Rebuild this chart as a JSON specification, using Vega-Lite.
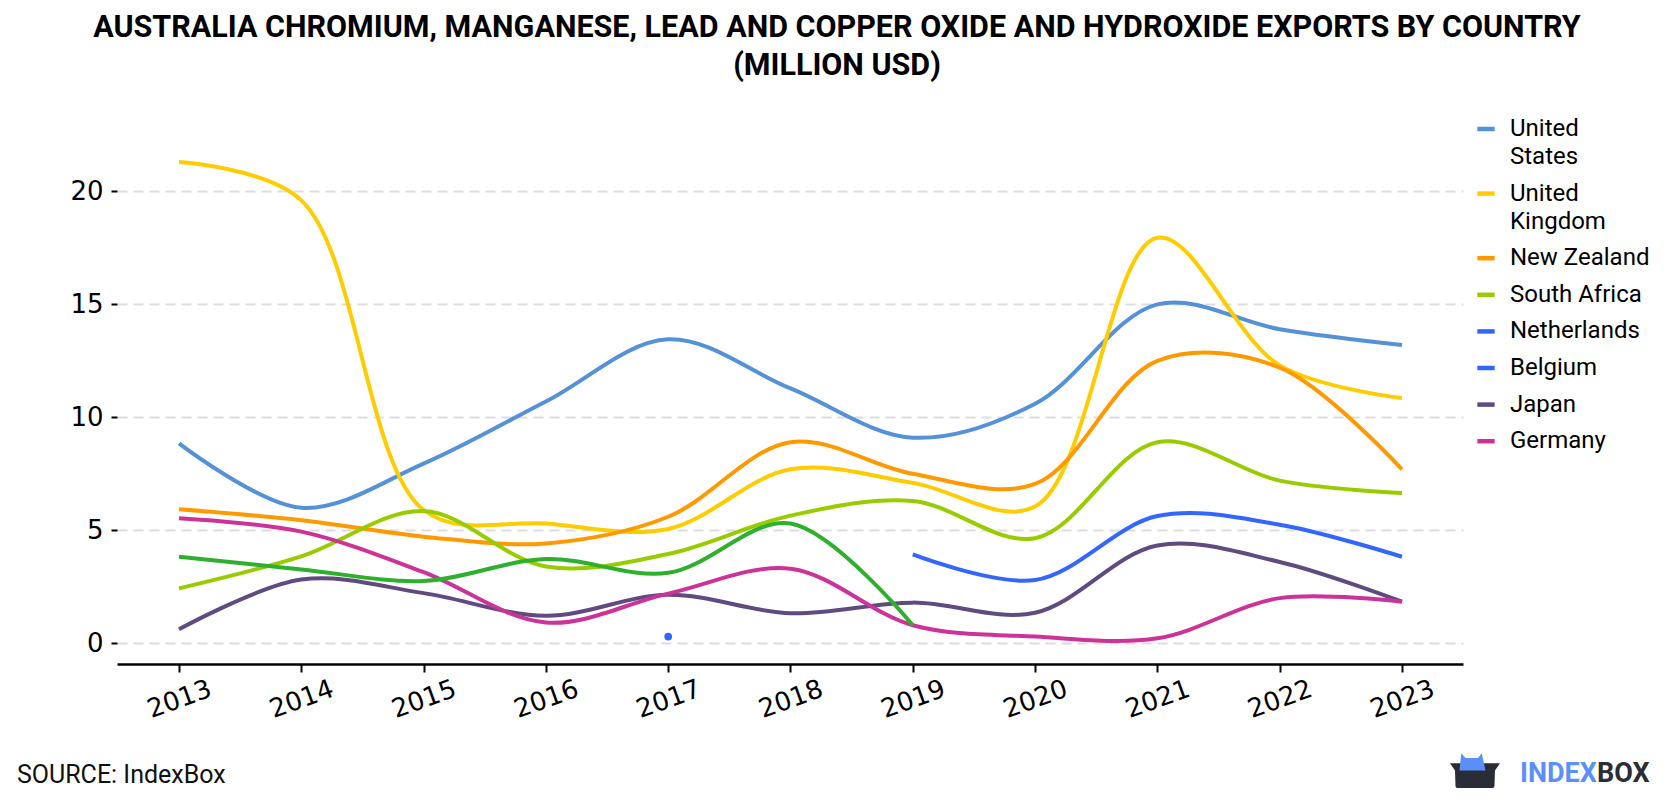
{
  "$schema": "https://vega.github.io/schema/vega-lite/v6.json",
  "autosize": "none",
  "width": 1346,
  "height": 547,
  "padding": {"left": 117, "top": 117, "right": 217, "bottom": 136},
  "background": "white",
  "title": {
    "text": ["AUSTRALIA CHROMIUM, MANGANESE, LEAD AND COPPER OXIDE AND HYDROXIDE EXPORTS BY COUNTRY", "(MILLION USD)"],
    "anchor": "middle",
    "frame": "group",
    "dx": 47,
    "offset": 36,
    "font": "Roboto",
    "fontSize": 30.5,
    "fontWeight": "bold",
    "lineHeight": 37.5,
    "color": "#000000"
  },
  "config": {
    "view": {"stroke": null},
    "axis": {"labelFont": "DejaVu Sans", "labelFontSize": 26, "labelColor": "#000000"},
    "style": {"guide-label": {"lineHeight": 28}}
  },
  "layer": [
    {
      "data": {"values": [
        {"country": "United States", "year": 2013, "value": 8.85},
        {"country": "United States", "year": 2014, "value": 6.0},
        {"country": "United States", "year": 2015, "value": 7.95},
        {"country": "United States", "year": 2016, "value": 10.7},
        {"country": "United States", "year": 2017, "value": 13.45},
        {"country": "United States", "year": 2018, "value": 11.28},
        {"country": "United States", "year": 2019, "value": 9.1},
        {"country": "United States", "year": 2020, "value": 10.6},
        {"country": "United States", "year": 2021, "value": 15.0},
        {"country": "United States", "year": 2022, "value": 13.9},
        {"country": "United States", "year": 2023, "value": 13.2},
        {"country": "United Kingdom", "year": 2013, "value": 21.3},
        {"country": "United Kingdom", "year": 2014, "value": 19.6},
        {"country": "United Kingdom", "year": 2015, "value": 5.9},
        {"country": "United Kingdom", "year": 2016, "value": 5.3},
        {"country": "United Kingdom", "year": 2017, "value": 5.06},
        {"country": "United Kingdom", "year": 2018, "value": 7.7},
        {"country": "United Kingdom", "year": 2019, "value": 7.1},
        {"country": "United Kingdom", "year": 2020, "value": 6.05},
        {"country": "United Kingdom", "year": 2021, "value": 17.95},
        {"country": "United Kingdom", "year": 2022, "value": 12.3},
        {"country": "United Kingdom", "year": 2023, "value": 10.85},
        {"country": "New Zealand", "year": 2013, "value": 5.93},
        {"country": "New Zealand", "year": 2014, "value": 5.45},
        {"country": "New Zealand", "year": 2015, "value": 4.72},
        {"country": "New Zealand", "year": 2016, "value": 4.42},
        {"country": "New Zealand", "year": 2017, "value": 5.6},
        {"country": "New Zealand", "year": 2018, "value": 8.9},
        {"country": "New Zealand", "year": 2019, "value": 7.5},
        {"country": "New Zealand", "year": 2020, "value": 7.05},
        {"country": "New Zealand", "year": 2021, "value": 12.5},
        {"country": "New Zealand", "year": 2022, "value": 12.2},
        {"country": "New Zealand", "year": 2023, "value": 7.7},
        {"country": "South Africa", "year": 2013, "value": 2.43},
        {"country": "South Africa", "year": 2014, "value": 3.85},
        {"country": "South Africa", "year": 2015, "value": 5.85},
        {"country": "South Africa", "year": 2016, "value": 3.4},
        {"country": "South Africa", "year": 2017, "value": 3.95},
        {"country": "South Africa", "year": 2018, "value": 5.65},
        {"country": "South Africa", "year": 2019, "value": 6.3},
        {"country": "South Africa", "year": 2020, "value": 4.65},
        {"country": "South Africa", "year": 2021, "value": 8.9},
        {"country": "South Africa", "year": 2022, "value": 7.2},
        {"country": "South Africa", "year": 2023, "value": 6.65},
        {"country": "Netherlands", "year": 2019, "value": 3.93},
        {"country": "Netherlands", "year": 2020, "value": 2.8},
        {"country": "Netherlands", "year": 2021, "value": 5.63},
        {"country": "Netherlands", "year": 2022, "value": 5.25},
        {"country": "Netherlands", "year": 2023, "value": 3.83},
        {"country": "Belgium", "year": 2017, "value": 0.3},
        {"country": "Japan", "year": 2013, "value": 0.62},
        {"country": "Japan", "year": 2014, "value": 2.82},
        {"country": "Japan", "year": 2015, "value": 2.22},
        {"country": "Japan", "year": 2016, "value": 1.22},
        {"country": "Japan", "year": 2017, "value": 2.15},
        {"country": "Japan", "year": 2018, "value": 1.33},
        {"country": "Japan", "year": 2019, "value": 1.8},
        {"country": "Japan", "year": 2020, "value": 1.35},
        {"country": "Japan", "year": 2021, "value": 4.33},
        {"country": "Japan", "year": 2022, "value": 3.6},
        {"country": "Japan", "year": 2023, "value": 1.84},
        {"country": "Germany", "year": 2013, "value": 5.53},
        {"country": "Germany", "year": 2014, "value": 4.94},
        {"country": "Germany", "year": 2015, "value": 3.15},
        {"country": "Germany", "year": 2016, "value": 0.92},
        {"country": "Germany", "year": 2017, "value": 2.2},
        {"country": "Germany", "year": 2018, "value": 3.3},
        {"country": "Germany", "year": 2019, "value": 0.8},
        {"country": "Germany", "year": 2020, "value": 0.3},
        {"country": "Germany", "year": 2021, "value": 0.22},
        {"country": "Germany", "year": 2022, "value": 2.0},
        {"country": "Germany", "year": 2023, "value": 1.84},
        {"country": "Other", "year": 2013, "value": 3.83},
        {"country": "Other", "year": 2014, "value": 3.27},
        {"country": "Other", "year": 2015, "value": 2.76},
        {"country": "Other", "year": 2016, "value": 3.73},
        {"country": "Other", "year": 2017, "value": 3.12},
        {"country": "Other", "year": 2018, "value": 5.3},
        {"country": "Other", "year": 2019, "value": 0.8}
      ]},
      "layer": [
        {
          "mark": {"type": "line", "interpolate": "catmull-rom", "strokeWidth": 4, "strokeJoin": "round", "clip": false},
          "encoding": {
            "x": {
              "field": "year", "type": "quantitative",
              "scale": {"domain": [2012.493, 2023.499], "nice": false, "zero": false},
              "axis": {
                "title": null, "values": [2013, 2014, 2015, 2016, 2017, 2018, 2019, 2020, 2021, 2022, 2023],
                "format": "d", "grid": false, "domainColor": "#000000", "domainWidth": 2.5,
                "tickColor": "#000000", "tickWidth": 2, "tickSize": 8, "labelAngle": -20,
                "labelAlign": "center", "labelBaseline": "middle", "labelPadding": 27, "labelDx": -2
              }
            },
            "y": {
              "field": "value", "type": "quantitative",
              "scale": {"domain": [-0.916, 23.29], "nice": false, "zero": false},
              "axis": {
                "title": null, "values": [0, 5, 10, 15, 20], "domain": false,
                "tickColor": "#000000", "tickWidth": 2, "tickSize": 6, "labelPadding": 8,
                "grid": true, "gridColor": "#dddddd", "gridWidth": 2, "gridDash": [10, 6]
              }
            },
            "color": {
              "field": "country", "type": "nominal",
              "scale": {
                "domain": ["United States", "United Kingdom", "New Zealand", "South Africa", "Netherlands", "Belgium", "Japan", "Germany", "Other"],
                "range": ["#5591d6", "#ffcc00", "#ff9900", "#99cc00", "#3366ff", "#3366ff", "#5f4b80", "#cc3399", "#2eaf2e"]
              },
              "legend": {
                "title": null,
                "values": ["United States", "United Kingdom", "New Zealand", "South Africa", "Netherlands", "Belgium", "Japan", "Germany"],
                "orient": "right", "offset": 11, "padding": 0,
                "symbolType": "stroke", "symbolStrokeWidth": 4.5, "symbolSize": 300,
                "labelFont": "Roboto", "labelFontSize": 24, "labelColor": "#000000",
                "labelOffset": 12, "rowPadding": 12.6, "labelLimit": 220,
                "labelExpr": "datum.label == 'United States' ? ['United', 'States'] : datum.label == 'United Kingdom' ? ['United', 'Kingdom'] : datum.label"
              }
            }
          }
        },
        {
          "transform": [{"filter": "datum.country == 'Belgium'"}],
          "mark": {"type": "point", "filled": true, "size": 60, "opacity": 1, "color": "#3366ff"},
          "encoding": {
            "x": {"field": "year", "type": "quantitative"},
            "y": {"field": "value", "type": "quantitative"}
          }
        }
      ]
    },
    {
      "data": {"values": [{"label": "SOURCE: IndexBox"}]},
      "mark": {"type": "text", "align": "left", "baseline": "middle", "font": "Roboto", "fontSize": 25, "color": "#111111", "clip": false},
      "encoding": {
        "x": {"datum": 2011.675, "type": "quantitative"},
        "y": {"datum": -5.83, "type": "quantitative"},
        "text": {"field": "label"}
      }
    },
    {
      "data": {"values": [{"label": "logo"}]},
      "mark": {"type": "point", "filled": true, "opacity": 1, "size": 2500, "color": "#2b2d36",
               "shape": "M-1,-0.29 L1,-0.29 L0.8,0 L0.78,0.62 Q0.78,0.7 0.7,0.7 L-0.7,0.7 Q-0.78,0.7 -0.78,0.62 L-0.8,0 Z"},
      "encoding": {
        "x": {"datum": 2023.597, "type": "quantitative"},
        "y": {"datum": -5.63, "type": "quantitative"}
      }
    },
    {
      "data": {"values": [{"label": "logo"}]},
      "mark": {"type": "point", "filled": true, "opacity": 1, "size": 2500, "color": "#5b8ff9",
               "shape": "M-0.62,0 L-0.55,-0.69 L-0.38,-0.5 L0.12,-0.5 L0.27,-0.69 L0.42,0 Z"},
      "encoding": {
        "x": {"datum": 2023.597, "type": "quantitative"},
        "y": {"datum": -5.63, "type": "quantitative"}
      }
    },
    {
      "data": {"values": [{"label": "INDEX"}]},
      "mark": {"type": "text", "align": "right", "baseline": "middle", "font": "Roboto", "fontSize": 27, "fontWeight": "bold", "color": "#5b8ff9", "clip": false},
      "encoding": {
        "x": {"datum": 2024.594, "type": "quantitative"},
        "y": {"datum": -5.78, "type": "quantitative"},
        "text": {"field": "label"}
      }
    },
    {
      "data": {"values": [{"label": "BOX"}]},
      "mark": {"type": "text", "align": "left", "baseline": "middle", "font": "Roboto", "fontSize": 27, "fontWeight": "bold", "color": "#2b2d36", "clip": false},
      "encoding": {
        "x": {"datum": 2024.594, "type": "quantitative"},
        "y": {"datum": -5.78, "type": "quantitative"},
        "text": {"field": "label"}
      }
    }
  ]
}
